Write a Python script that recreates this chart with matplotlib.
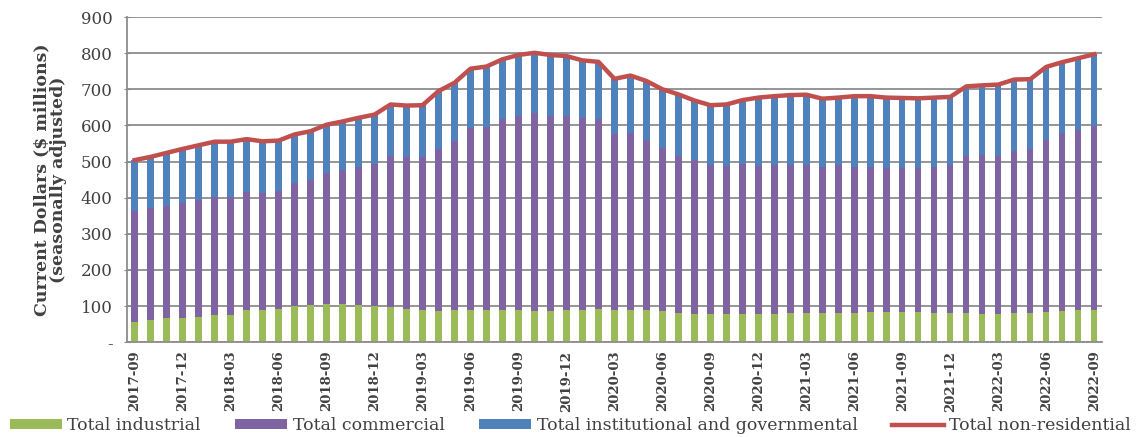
import numpy as np
import matplotlib.pyplot as plt

# Meses (2017-09 a 2022-09)
months = [f"{y}-{m:02d}" for y in range(2017, 2023) for m in range(1, 13)]
months = months[months.index("2017-09"):months.index("2022-09") + 1]

industrial = [57, 62, 66, 68, 71, 75, 76, 88, 89, 92, 100, 104, 107, 106, 102, 100,
              96, 91, 90, 86, 88, 90, 88, 88, 88, 87, 85, 90, 90, 92, 90, 90,
              89, 87, 82, 79, 78, 78, 79, 79, 79, 81, 81, 81, 81, 82, 84, 84,
              84, 84, 82, 81, 81, 79, 79, 82, 81, 84, 86, 88, 90]
commercial = [306, 310, 312, 318, 323, 328, 327, 328, 324, 327, 340, 346, 362, 371, 382, 394,
              418, 422, 423, 450, 470, 504, 509, 530, 539, 547, 542, 537, 530, 525, 487, 490,
              471, 450, 434, 425, 413, 410, 414, 409, 412, 410, 409, 403, 409, 404, 401, 399,
              398, 398, 404, 410, 435, 440, 437, 447, 454, 477, 494, 499, 508]
institutional = [141, 141, 146, 149, 151, 152, 152, 146, 143, 139, 135, 134, 133, 134, 137, 136,
                 144, 142, 143, 159, 160, 163, 166, 165, 168, 167, 168, 165, 160, 159, 152, 158,
                 163, 163, 170, 165, 165, 170, 177, 189, 190, 193, 195, 190, 187, 195, 196, 194,
                 194, 193, 191, 188, 192, 192, 197, 198, 193, 201, 195, 199, 199]

ind = np.array(industrial)
com = np.array(commercial)
ins = np.array(institutional)
total = ind + com + ins
x = np.arange(len(months))

plt.rcParams['font.family'] = ['DejaVu Serif']
txt = '#404040'

fig = plt.figure(figsize=(11.41, 4.37), dpi=100)
ax = fig.add_axes([0.111, 0.217, 0.855, 0.744])

w = 0.4
b1 = ax.bar(x, ind, width=w, color='#9BBB59', label='Total industrial', zorder=2)
b2 = ax.bar(x, com, width=w, bottom=ind, color='#8064A2', label='Total commercial', zorder=2)
b3 = ax.bar(x, ins, width=w, bottom=ind + com, color='#4F81BD',
            label='Total institutional and governmental', zorder=2)
l1, = ax.plot(x, total, color='#C0504D', linewidth=3.2, label='Total non-residential', zorder=3)

ax.set_xlim(-0.5, len(months) - 0.5)
ax.set_ylim(0, 900)
ax.set_yticks(range(0, 1000, 100))
ax.set_yticklabels(['-'] + [str(v) for v in range(100, 1000, 100)], fontsize=12, color=txt)
ax.set_xticks(x[::3])
ax.set_xticklabels(months[::3], rotation=90, fontsize=9.5, fontweight='bold', color=txt)
ax.tick_params(axis='x', length=0, pad=6)
ax.tick_params(axis='y', length=4, color='#888888', direction='inout', pad=8)

ax.grid(axis='y', color='#8c8c8c', linewidth=1.3, zorder=0)
ax.set_axisbelow(True)
for s in ['top', 'right']:
    ax.spines[s].set_visible(False)
for s in ['left', 'bottom']:
    ax.spines[s].set_color('#8c8c8c')
    ax.spines[s].set_linewidth(1.3)

ax.set_ylabel('Current Dollars ($ millions)\n(seasonally adjusted)',
              fontsize=12.5, fontweight='bold', color=txt, labelpad=10, linespacing=1.0)

fig.legend([b1, b2, b3, l1], [h.get_label() for h in [b1, b2, b3, l1]],
           loc='lower center', bbox_to_anchor=(0.5, -0.03), ncol=4, frameon=False,
           fontsize=12.5, handlelength=3.0, handleheight=0.5, columnspacing=2.0,
           handletextpad=0.3, labelcolor=txt)

fig.savefig('out.png', dpi=100)
